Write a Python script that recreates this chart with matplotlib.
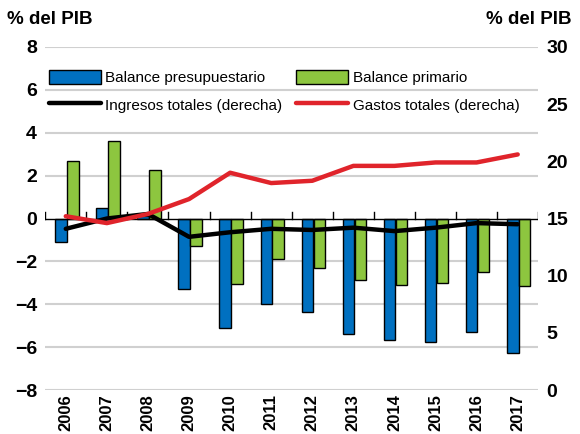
import matplotlib.pyplot as plt
import numpy as np

plt.rcParams['font.family'] = ['Liberation Sans', 'DejaVu Sans']

years = ["2006", "2007", "2008", "2009", "2010", "2011", "2012", "2013", "2014", "2015", "2016", "2017"]
balance_presup = [-1.1, 0.5, 0.1, -3.3, -5.1, -4.0, -4.35, -5.4, -5.65, -5.75, -5.3, -6.25]
balance_prim = [2.7, 3.6, 2.25, -1.3, -3.05, -1.9, -2.3, -2.85, -3.1, -3.0, -2.5, -3.15]
ingresos = [14.1, 15.0, 15.4, 13.4, 13.8, 14.1, 14.0, 14.2, 13.9, 14.2, 14.6, 14.5]
gastos = [15.2, 14.6, 15.4, 16.7, 19.0, 18.1, 18.3, 19.6, 19.6, 19.9, 19.9, 20.6]

x = np.arange(len(years))

fig = plt.figure(figsize=(5.8, 4.34), dpi=100)
ax = fig.add_axes([0.078, 0.101, 0.85, 0.791])
ax2 = ax.twinx()

ax.set_zorder(ax2.get_zorder() - 1)
ax.patch.set_visible(False)

ax.bar(x - 0.12, balance_presup, width=0.28, color="#0070C0", edgecolor="black", linewidth=1, label="Balance presupuestario", zorder=3)
ax.bar(x + 0.17, balance_prim, width=0.28, color="#8DC63F", edgecolor="black", linewidth=1, label="Balance primario", zorder=3)

l1, = ax2.plot(x, ingresos, color="black", linewidth=3.2, solid_capstyle="round", label="Ingresos totales (derecha)")
l2, = ax2.plot(x, gastos, color="#E0242B", linewidth=3.2, solid_capstyle="round", label="Gastos totales (derecha)")

ax.set_xlim(-0.5, len(years) - 0.5)
ax.set_ylim(-8, 8)
ax2.set_ylim(0, 30)
ax.set_yticks(range(-8, 9, 2))
ax2.set_yticks(range(0, 31, 5))

for v in range(-8, 9, 2):
    if v != 0:
        ax.axhline(v, color="#d0d0d0", linewidth=1.5, zorder=0)
ax.axhline(0, color="black", linewidth=1, zorder=4)
# category boundary ticks pointing up from zero line
for b in np.arange(-0.5, len(years), 1.0):
    ax.plot([b, b], [0, 0.3], color="black", linewidth=1, zorder=4)

for a in (ax, ax2):
    for s in a.spines.values():
        s.set_visible(False)
    a.tick_params(axis="y", length=0, labelsize=14, pad=6)
    for t in a.get_yticklabels():
        t.set_fontweight("bold")

ax.set_xticks(x)
ax.set_xticklabels(years, rotation=90, fontsize=12, fontweight="bold")
ax.tick_params(axis="x", length=0, pad=3)

fig.text(0.012, 0.955, "% del PIB", fontsize=13.5, fontweight="bold", ha="left", va="center")
fig.text(0.985, 0.955, "% del PIB", fontsize=13.5, fontweight="bold", ha="right", va="center")

h1, lab1 = ax.get_legend_handles_labels()
handles = [h1[0], l1, h1[1], l2]
labels = [lab1[0], l1.get_label(), lab1[1], l2.get_label()]
leg = ax.legend(handles, labels, ncol=2, loc="upper left", bbox_to_anchor=(-0.005, 0.95),
                frameon=False, fontsize=11, handlelength=3.4, handleheight=1.0,
                handletextpad=0.3, columnspacing=0.9, labelspacing=0.8, borderaxespad=0)
leg.set_zorder(10)

fig.savefig("out.png", dpi=100)
